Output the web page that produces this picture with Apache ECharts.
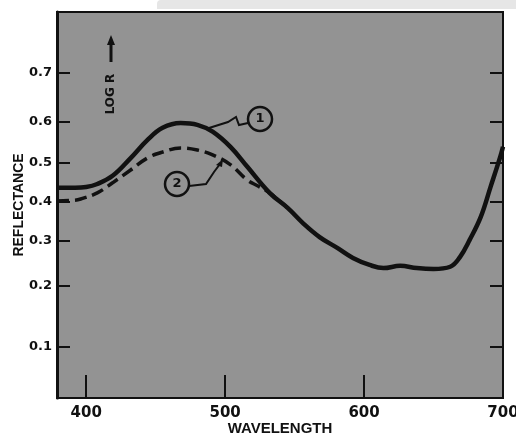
<!DOCTYPE html>
<html>
<head>
<meta charset="utf-8">
<script src="https://cdn.jsdelivr.net/npm/echarts@6/dist/echarts.min.js"></script>
<style>
html,body{margin:0;padding:0;background:#ffffff;}
#chart{width:516px;height:438px;}
</style>
</head>
<body>
<div id="chart"></div>
<script>
// ---- data ----
const wavelength1 = [379, 392, 400, 408, 419, 432, 444, 455, 468, 480, 491, 504, 516, 532, 545, 556, 568, 581, 592, 604, 614, 626, 638, 650, 662, 669, 676, 684, 691, 698, 700];
const reflectance1 = [0.436, 0.436, 0.438, 0.446, 0.467, 0.512, 0.556, 0.585, 0.596, 0.592, 0.576, 0.539, 0.490, 0.423, 0.384, 0.345, 0.310, 0.283, 0.260, 0.244, 0.237, 0.242, 0.237, 0.235, 0.240, 0.262, 0.303, 0.361, 0.438, 0.515, 0.540];
const wavelength2 = [379, 392, 396, 408, 419, 432, 444, 455, 468, 480, 491, 504, 516, 524, 532, 545];
const reflectance2 = [0.402, 0.404, 0.407, 0.423, 0.449, 0.482, 0.512, 0.527, 0.537, 0.532, 0.520, 0.495, 0.456, 0.440, 0.423, 0.384];
const yTickValues = [0.1, 0.2, 0.3, 0.4, 0.5, 0.6, 0.7];
const xTickValues = [400, 500, 600, 700];

// Reflectance axis is a Kubelka-Munk scale: -log10((1-R)^2 / 2R)
function km(R) { return -Math.log10((1 - R) * (1 - R) / (2 * R)); }
function invKm(v) { const k = Math.pow(10, -v); return (1 + k) - Math.sqrt((1 + k) * (1 + k) - 1); }

const yMin = -0.9426, yMax = 1.5931;
const yTicksKm = yTickValues.map(km);
const s1 = wavelength1.map((w, i) => [w, km(reflectance1[i])]);
const s2 = wavelength2.map((w, i) => [w, km(reflectance2[i])]);

const INK = '#111111';
const chart = echarts.init(document.getElementById('chart'), null, {renderer: 'canvas'});
chart.setOption({
  animation: false,
  backgroundColor: '#ffffff',
  grid: {left: 57, right: 13, top: 12, bottom: 40, containLabel: false, outerBoundsMode: 'none',
         show: true, backgroundColor: '#939393', borderColor: INK, borderWidth: 2},
  xAxis: {
    type: 'value', min: 379, max: 700,
    name: 'WAVELENGTH', nameLocation: 'middle', nameGap: 23, nameMoveOverlap: false,
    nameTextStyle: {fontFamily: 'Liberation Sans', fontWeight: 'bold', fontSize: 15, color: INK},
    axisLine: {show: true, onZero: false, lineStyle: {color: INK, width: 2}},
    axisTick: {show: true, inside: true, length: 23, lineStyle: {color: INK, width: 2}, customValues: xTickValues},
    axisLabel: {customValues: xTickValues, fontFamily: 'DejaVu Sans', fontWeight: 'bold', fontSize: 15, color: INK, margin: 8},
    splitLine: {show: false}
  },
  yAxis: [{
    type: 'value', min: yMin, max: yMax, position: 'left',
    name: 'REFLECTANCE', nameLocation: 'middle', nameGap: 31, nameRotate: 90, nameMoveOverlap: false,
    nameTextStyle: {fontFamily: 'Liberation Sans', fontWeight: 'bold', fontSize: 14, color: INK},
    axisLine: {show: true, onZero: false, lineStyle: {color: INK, width: 3}},
    axisTick: {show: true, inside: true, length: 13, lineStyle: {color: INK, width: 2}, customValues: yTicksKm},
    axisLabel: {customValues: yTicksKm, formatter: v => invKm(v).toFixed(1), fontFamily: 'DejaVu Sans', fontWeight: 'bold', fontSize: 13, color: INK, margin: 5},
    splitLine: {show: false}
  }, {
    type: 'value', min: yMin, max: yMax, position: 'right',
    axisLine: {show: true, onZero: false, lineStyle: {color: INK, width: 2}},
    axisTick: {show: true, inside: true, length: 13, lineStyle: {color: INK, width: 2}, customValues: yTicksKm},
    axisLabel: {show: false},
    splitLine: {show: false}
  }],
  series: [{
    name: '2', type: 'line', data: s2, smooth: 0.4, symbol: 'none', yAxisIndex: 0,
    lineStyle: {color: INK, width: 3.5, type: [12, 6], cap: 'butt'}, z: 2
  }, {
    name: '1', type: 'line', data: s1, smooth: 0.4, symbol: 'none', yAxisIndex: 0,
    lineStyle: {color: INK, width: 4.5}, z: 3
  }],
  graphic: [
    {type: 'rect', shape: {x: 157, y: 0, width: 359, height: 9, r: [4, 0, 0, 0]}, style: {fill: '#e6e6e6'}, z: 0},
    // callout 1
    {type: 'polyline', shape: {points: [[209, 128], [228, 122], [236, 117], [239, 125], [248, 123]]}, style: {stroke: INK, lineWidth: 2, fill: null}, z: 10},
    {type: 'circle', shape: {cx: 260, cy: 119, r: 12}, style: {stroke: INK, lineWidth: 2.5, fill: null}, z: 10},
    {type: 'text', x: 260, y: 119, style: {text: '1', fontFamily: 'DejaVu Sans', fontWeight: 'bold', fontSize: 13, fill: INK, align: 'center', verticalAlign: 'middle'}, z: 10},
    // callout 2
    {type: 'polyline', shape: {points: [[189, 186], [206, 184], [214, 172], [220, 164]]}, style: {stroke: INK, lineWidth: 2, fill: null}, z: 10},
    {type: 'polygon', shape: {points: [[223, 159], [216, 165], [222, 167]]}, style: {fill: INK}, z: 10},
    {type: 'circle', shape: {cx: 177, cy: 184, r: 12}, style: {stroke: INK, lineWidth: 2.5, fill: null}, z: 10},
    {type: 'text', x: 177, y: 184, style: {text: '2', fontFamily: 'DejaVu Sans', fontWeight: 'bold', fontSize: 13, fill: INK, align: 'center', verticalAlign: 'middle'}, z: 10},
    // LOG R arrow annotation
    {type: 'text', x: 111, y: 94, rotation: Math.PI / 2, style: {text: 'LOG R', fontFamily: 'DejaVu Sans', fontWeight: 'bold', fontSize: 12, fill: INK, align: 'center', verticalAlign: 'middle'}, z: 10},
    {type: 'line', shape: {x1: 111, y1: 62, x2: 111, y2: 44}, style: {stroke: INK, lineWidth: 3}, z: 10},
    {type: 'polygon', shape: {points: [[111, 35], [107, 45], [115, 45]]}, style: {fill: INK}, z: 10}
  ]
});
</script>
</body>
</html>
